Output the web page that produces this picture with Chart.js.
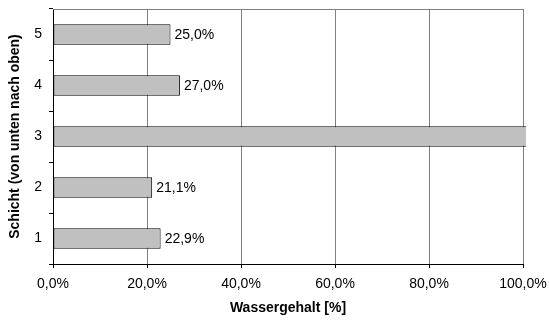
<!DOCTYPE html>
<html>
<head>
<meta charset="utf-8">
<script src="https://cdn.jsdelivr.net/npm/chart.js@4.4.0/dist/chart.umd.min.js"></script>
<style>
  html, body { margin: 0; padding: 0; background: #fff; }
  #wrap { width: 549px; height: 322px; }
</style>
</head>
<body>
<div id="wrap"><canvas id="chart" width="549" height="322"></canvas></div>
<script>
// Schichten 1..5 (unten nach oben) und Wassergehalt in %
const schichten = ['1', '2', '3', '4', '5'];
const wassergehalt = [22.9, 21.1, 130, 27.0, 25.0];
const xTicks = [0, 20, 40, 60, 80, 100];

const FONT = "'Liberation Sans', Arial, sans-serif";

function fmtProzent(v) {
  return v.toFixed(1).replace('.', ',') + '%';
}

// Werte rechts neben die Balken schreiben (nur wenn innerhalb der Achse)
const wertLabels = {
  id: 'wertLabels',
  afterDatasetsDraw(chart) {
    const ctx = chart.ctx;
    const meta = chart.getDatasetMeta(0);
    const max = chart.scales.x.max;
    ctx.save();
    ctx.font = '14px ' + FONT;
    ctx.fillStyle = '#000';
    ctx.textBaseline = 'middle';
    ctx.textAlign = 'left';
    meta.data.forEach((bar, i) => {
      const v = wassergehalt[i];
      if (v > max) return;
      ctx.fillText(fmtProzent(v), bar.x + 4, bar.y + 1);
    });
    ctx.restore();
  }
};

// obere Rahmenlinie der Zeichenfläche
const rahmenOben = {
  id: 'rahmenOben',
  beforeDatasetsDraw(chart) {
    const { ctx, chartArea } = chart;
    ctx.save();
    ctx.strokeStyle = '#808080';
    ctx.lineWidth = 1;
    ctx.beginPath();
    ctx.moveTo(chartArea.left, chartArea.top + 0.5);
    ctx.lineTo(chartArea.right, chartArea.top + 0.5);
    ctx.stroke();
    ctx.restore();
  }
};

new Chart(document.getElementById('chart'), {
  type: 'bar',
  data: {
    labels: schichten,
    datasets: [{
      data: wassergehalt,
      backgroundColor: '#c0c0c0',
      borderColor: '#000',
      borderWidth: 1,
      borderSkipped: false,
      barPercentage: 0.4,
      categoryPercentage: 1,
      clip: { left: 0, top: 0, right: 3, bottom: 0 }
    }]
  },
  options: {
    indexAxis: 'y',
    responsive: false,
    animation: false,
    layout: { padding: { left: 0, top: 9, right: 26, bottom: 0 } },
    plugins: { legend: { display: false }, tooltip: { enabled: false } },
    scales: {
      x: {
        min: 0,
        max: 100,
        afterFit(scale) {
          scale.height = 58;
          scale.paddingLeft = 0;
          scale.paddingRight = 0;
        },
        afterBuildTicks(scale) { scale.ticks = xTicks.map(v => ({ value: v })); },
        ticks: {
          callback: v => fmtProzent(v),
          color: '#000',
          font: { family: FONT, size: 14 },
          padding: 8,
          maxRotation: 0
        },
        grid: { color: '#808080', tickColor: '#000', tickLength: 4, lineWidth: 1 },
        border: { color: '#000' },
        title: {
          display: true,
          text: 'Wassergehalt [%]',
          color: '#000',
          font: { family: FONT, size: 14, weight: 'bold' },
          padding: { top: 0, bottom: 5 }
        }
      },
      y: {
        reverse: true,
        afterFit(scale) {
          scale.width = 53;
          scale.paddingTop = 0;
          scale.paddingBottom = 0;
        },
        ticks: {
          color: '#000',
          font: { family: FONT, size: 14 },
          padding: 7
        },
        grid: { drawOnChartArea: false, tickColor: '#000', tickLength: 4, offset: true },
        border: { color: '#000' },
        title: {
          display: true,
          text: 'Schicht (von unten nach oben)',
          color: '#000',
          font: { family: FONT, size: 14, weight: 'bold' },
          padding: { top: 7, bottom: 0 }
        }
      }
    }
  },
  plugins: [wertLabels, rahmenOben]
});
</script>
</body>
</html>
